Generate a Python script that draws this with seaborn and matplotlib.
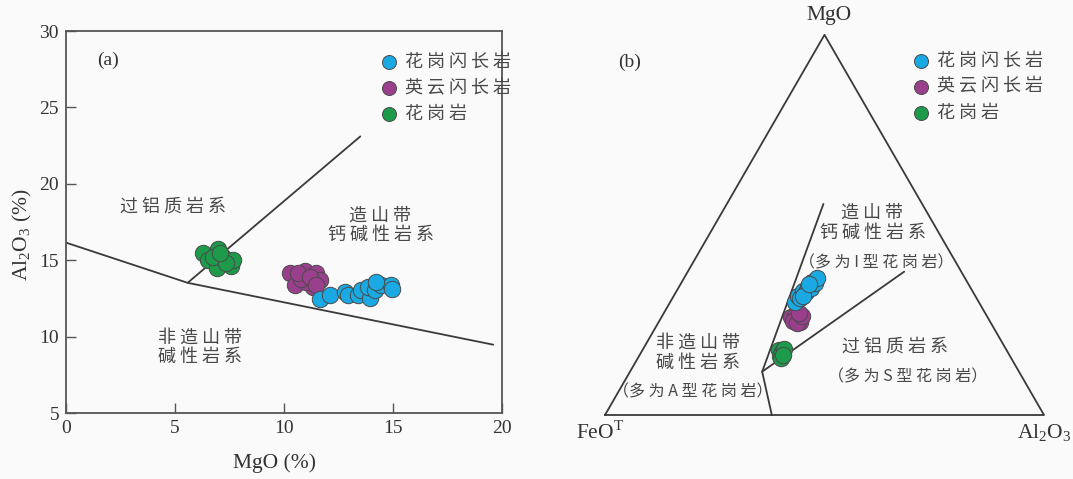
import numpy as np
import pandas as pd
import matplotlib
matplotlib.use("Agg")
import matplotlib.pyplot as plt
import seaborn as sns

sns.set_theme(style="white")
plt.rcParams["font.family"] = ["Liberation Serif", "Noto Sans CJK SC"]
plt.rcParams["mathtext.fontset"] = "custom"
plt.rcParams["mathtext.rm"] = "Liberation Serif"

CJK = ["Noto Sans CJK SC", "DejaVu Sans"]

# ---- group names and colours ----
groups = ["花岗闪长岩", "英云闪长岩", "花岗岩"]
colors = {"花岗闪长岩": "#1ba9e3", "英云闪长岩": "#9a3f8c", "花岗岩": "#1d9a4a"}

# ---- (a) MgO vs Al2O3 (wt%) ----
gd_mgo = [11.63, 12.09, 12.78, 12.93, 13.39, 13.55, 13.93, 13.85, 14.16, 14.46, 14.92, 14.97, 14.24]
gd_al = [12.43, 12.71, 12.93, 12.71, 12.71, 13.05, 12.55, 13.27, 13.05, 13.38, 13.38, 13.10, 13.60]
td_mgo = [10.26, 10.49, 10.95, 11.48, 11.33, 11.02, 10.80, 11.63, 10.64, 11.18, 11.48]
td_al = [14.13, 13.37, 14.32, 14.13, 13.26, 13.60, 13.80, 13.69, 14.13, 13.90, 13.37]
gr_mgo = [6.30, 6.98, 6.53, 6.91, 7.20, 7.59, 7.66, 6.76, 7.35, 7.06]
gr_al = [15.45, 15.76, 15.02, 14.48, 15.20, 14.59, 15.00, 15.20, 14.80, 15.50]

# field boundaries in MgO–Al2O3 space
lower_bnd_mgo = [0.0, 5.58, 19.6]
lower_bnd_al = [16.15, 13.52, 9.47]
divider_mgo = [5.58, 13.5]
divider_al = [13.52, 23.1]

# ---- (b) MgO–FeOT–Al2O3 ternary (%) ----
gd_t_mgo = [29.7, 31.3, 30.8, 32.6, 32.4, 33.7, 33.4, 35.0, 34.7, 36.0, 31.3, 34.5]
gd_t_feo = [41.9, 40.4, 40.2, 38.6, 38.0, 36.9, 36.4, 35.4, 34.8, 33.7, 39.2, 36.3]
gd_t_al = [28.4, 28.3, 29.0, 28.8, 29.6, 29.4, 30.2, 29.6, 30.5, 30.3, 29.5, 29.2]
td_t_mgo = [25.8, 26.3, 25.5, 24.5, 24.7, 24.2, 26.0, 26.8]
td_t_feo = [44.7, 43.6, 43.3, 43.3, 44.8, 44.2, 42.1, 42.4]
td_t_al = [29.5, 30.1, 31.2, 32.2, 30.5, 31.6, 31.9, 30.8]
gr_t_mgo = [17.1, 16.6, 15.5, 17.4, 15.0, 15.8]
gr_t_feo = [51.8, 51.4, 52.4, 50.5, 52.4, 51.6]
gr_t_al = [31.1, 32.0, 32.1, 32.1, 32.6, 32.6]

# ternary frame and field boundaries as (MgO, FeOT, Al2O3)
frame_t = [(0, 100, 0), (0, 0, 100), (100, 0, 0), (0, 100, 0)]
bnd_main_t = [(0, 62.0, 38.0), (11.4, 58.5, 30.1), (55.5, 22.5, 22.0)]
bnd_branch_t = [(11.4, 58.5, 30.1), (37.7, 13.0, 49.3)]


def tern_xy(mgo, feo, al):
    mgo, feo, al = (np.asarray(v, float) for v in (mgo, feo, al))
    tot = mgo + feo + al
    m, a = mgo / tot, al / tot
    return a + m / 2, m * np.sqrt(3) / 2


def tern_path(pts):
    m, f, a = zip(*pts)
    return tern_xy(m, f, a)


def spaced(s):
    return " ".join(s)


df_a = pd.concat([
    pd.DataFrame({"MgO": gr_mgo, "Al2O3": gr_al, "岩性": groups[2]}),
    pd.DataFrame({"MgO": td_mgo, "Al2O3": td_al, "岩性": groups[1]}),
    pd.DataFrame({"MgO": gd_mgo, "Al2O3": gd_al, "岩性": groups[0]}),
], ignore_index=True)

parts = []
for name, m, f, a in [(groups[2], gr_t_mgo, gr_t_feo, gr_t_al),
                      (groups[1], td_t_mgo, td_t_feo, td_t_al),
                      (groups[0], gd_t_mgo, gd_t_feo, gd_t_al)]:
    x, y = tern_xy(m, f, a)
    parts.append(pd.DataFrame({"x": x, "y": y, "岩性": name}))
df_b = pd.concat(parts, ignore_index=True)

W, H = 1073, 479
fig = plt.figure(figsize=(W / 100, H / 100), dpi=100, facecolor="#fafafa")

ink = "#3a3a3a"
txt = "#484848"
spine_c = "#555555"
mk = dict(s=140, edgecolor="#4a4a4a", linewidth=0.7, alpha=1.0)
cjk_fs = 13
note_fs = 11.5


def add_legend(ax, anchor):
    h, l = ax.get_legend_handles_labels()
    order = [l.index(g) for g in groups]
    leg = ax.legend([h[i] for i in order], [spaced(l[i]) for i in order],
                    loc="upper left", bbox_to_anchor=anchor, frameon=False,
                    handletextpad=0.35, labelspacing=0.45, borderaxespad=0,
                    handlelength=1.0, markerscale=0.85,
                    prop={"family": CJK, "size": 13})
    for t in leg.get_texts():
        t.set_color(txt)


# ======================= (a) =======================
ax1 = fig.add_axes([66 / W, 1 - 413 / H, (502 - 66) / W, (413 - 31) / H])
ax1.set_facecolor("#fafafa")
ax1.plot(lower_bnd_mgo, lower_bnd_al, color=ink, lw=1.3)
ax1.plot(divider_mgo, divider_al, color=ink, lw=1.3)
for g in [groups[2], groups[1], groups[0]]:
    sns.scatterplot(data=df_a[df_a["岩性"] == g], x="MgO", y="Al2O3",
                    color=colors[g], label=g, ax=ax1, zorder=3, **mk)
ax1.set_xlim(0, 20)
ax1.set_ylim(5, 30)
ax1.set_xticks([0, 5, 10, 15, 20])
ax1.set_yticks([5, 10, 15, 20, 25, 30])
ax1.tick_params(direction="in", length=7, width=1.0, color=spine_c,
                labelsize=14, labelcolor="#333333", pad=5,
                top=False, right=False, bottom=True, left=True)
for sp in ax1.spines.values():
    sp.set_color(spine_c)
    sp.set_linewidth(1.3)
ax1.set_xlabel("MgO (%)", fontsize=15.5, color="#333333")
ax1.set_ylabel(r"Al$_\mathregular{2}$O$_\mathregular{3}$ (%)", fontsize=15.5,
               color="#333333")
ax1.xaxis.set_label_coords(0.479, -0.105)
ax1.yaxis.set_label_coords(-0.074, 0.466)

ax1.text(1.93, 28.1, "(a)", fontsize=14, color="#333333", ha="center", va="center")
ax1.text(4.91, 18.48, spaced("过铝质岩系"), family=CJK, fontsize=cjk_fs, color=txt,
         ha="center", va="center")
ax1.text(14.4, 17.89, spaced("造山带"), family=CJK, fontsize=cjk_fs, color=txt,
         ha="center", va="center")
ax1.text(14.46, 16.65, spaced("钙碱性岩系"), family=CJK, fontsize=cjk_fs, color=txt,
         ha="center", va="center")
ax1.text(6.14, 9.95, spaced("非造山带"), family=CJK, fontsize=cjk_fs, color=txt,
         ha="center", va="center")
ax1.text(6.14, 8.64, spaced("碱性岩系"), family=CJK, fontsize=cjk_fs, color=txt,
         ha="center", va="center")

add_legend(ax1, (0.704, 0.962))

# ======================= (b) =======================
ax2 = fig.add_axes([570 / W, 0, (W - 570) / W, 1])
ax2.set_facecolor("#fafafa")
ax2.set_xlim((570 - 605) / 439, (W - 605) / 439)
ax2.set_ylim((415 - H) / 439, 415 / 439)
ax2.set_axis_off()

fx, fy = tern_path(frame_t)
ax2.plot(fx, fy, color=ink, lw=1.3)
bx, by = tern_path(bnd_main_t)
ax2.plot(bx, by, color=ink, lw=1.3)
bx, by = tern_path(bnd_branch_t)
ax2.plot(bx, by, color=ink, lw=1.3)

for g in [groups[2], groups[1], groups[0]]:
    sns.scatterplot(data=df_b[df_b["岩性"] == g], x="x", y="y",
                    color=colors[g], label=g, ax=ax2, zorder=3, **mk)

ax2.text(0.51, 0.91, "MgO", fontsize=15.5, color="#333333", ha="center", va="center")
ax2.text(-0.011, -0.041, r"FeO$^\mathregular{T}$", fontsize=15.5, color="#333333",
         ha="center", va="center")
ax2.text(1.0, -0.041, r"Al$_\mathregular{2}$O$_\mathregular{3}$", fontsize=15.5,
         color="#333333", ha="center", va="center")
ax2.text(0.057, 0.804, "(b)", fontsize=14, color="#333333", ha="center", va="center")

ax2.text(0.6075, 0.460, spaced("造山带"), family=CJK, fontsize=cjk_fs, color=txt,
         ha="center", va="center")
ax2.text(0.611, 0.4146, spaced("钙碱性岩系"), family=CJK, fontsize=cjk_fs, color=txt,
         ha="center", va="center")
ax2.text(0.619, 0.346, "（多 为 I 型 花 岗 岩）", family=CJK, fontsize=note_fs, color=txt,
         ha="center", va="center")
ax2.text(0.6606, 0.155, spaced("过铝质岩系"), family=CJK, fontsize=cjk_fs, color=txt,
         ha="center", va="center")
ax2.text(0.690, 0.0866, "（多 为 S 型 花 岗 岩）", family=CJK, fontsize=note_fs, color=txt,
         ha="center", va="center")
ax2.text(0.2118, 0.164, spaced("非造山带"), family=CJK, fontsize=cjk_fs, color=txt,
         ha="center", va="center")
ax2.text(0.2118, 0.118, spaced("碱性岩系"), family=CJK, fontsize=cjk_fs, color=txt,
         ha="center", va="center")
ax2.text(0.2005, 0.0524, "（多 为 A 型 花 岗 岩）", family=CJK, fontsize=note_fs, color=txt,
         ha="center", va="center")

add_legend(ax2, (0.666, 0.908))

fig.savefig("out.png", dpi=100, facecolor=fig.get_facecolor())
